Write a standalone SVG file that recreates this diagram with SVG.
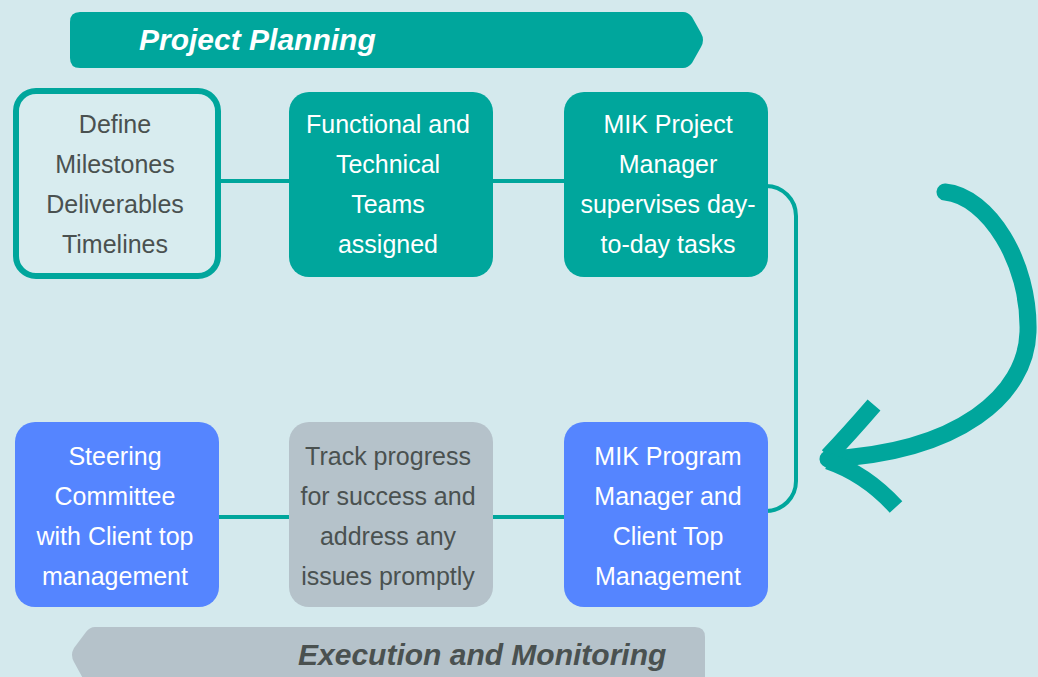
<svg xmlns="http://www.w3.org/2000/svg" width="1038" height="677" viewBox="0 0 1038 677">
  <defs>
    <style>
      .txt { font-family: "Liberation Sans", Arial, sans-serif; font-size: 25px; text-anchor: middle; }
      .light { fill: #ffffff; }
      .dark { fill: #4a5150; }
      .banner { font-family: "Liberation Sans", Arial, sans-serif; font-size: 30px; font-weight: bold; font-style: italic; }
      .link { fill: none; stroke: #00a69c; stroke-width: 4; }
      .teal { fill: #00a69c; }
      .blue { fill: #5585ff; }
      .grey { fill: #b5c2ca; }
      .sweep { fill: none; stroke: #00a69c; stroke-width: 17; }
    </style>
  </defs>

  <!-- background -->
  <rect width="1038" height="677" fill="#d4e9ed"/>

  <!-- phase banners -->
  <g id="banner-planning">
    <path class="teal" d="M80 12 H683 Q688 12 692 17 L701 33 Q705 40 701 47 L692 63 Q688 68 683 68 H80 Q70 68 70 58 V22 Q70 12 80 12 Z"/>
    <text class="banner light" x="139" y="50">Project Planning</text>
  </g>
  <g id="banner-execution">
    <path class="grey" d="M95 627 H695 Q705 627 705 637 V690 H95 Q90 690 86 684 L74 662 Q70 655 74 648 L86 632 Q90 627 95 627 Z"/>
    <text class="banner dark" x="298" y="665">Execution and Monitoring</text>
  </g>

  <!-- connectors -->
  <g id="connectors">
    <line class="link" x1="219" y1="181" x2="291" y2="181"/>
    <line class="link" x1="491" y1="181" x2="566" y2="181"/>
    <path class="link" d="M766 186 A30 30 0 0 1 796 216 V481 A30 30 0 0 1 766 511"/>
    <line class="link" x1="217" y1="517" x2="291" y2="517"/>
    <line class="link" x1="491" y1="517" x2="566" y2="517"/>
  </g>

  <!-- top row -->
  <g id="node-define">
    <rect x="16" y="91" width="202" height="185" rx="20" fill="#d8ecef" stroke="#00a69c" stroke-width="6"/>
    <text class="txt dark" x="115" y="133">Define</text>
    <text class="txt dark" x="115" y="173">Milestones</text>
    <text class="txt dark" x="115" y="213">Deliverables</text>
    <text class="txt dark" x="115" y="253">Timelines</text>
  </g>
  <g id="node-teams">
    <rect class="teal" x="289" y="92" width="204" height="185" rx="20"/>
    <text class="txt light" x="388" y="133">Functional and</text>
    <text class="txt light" x="388" y="173">Technical</text>
    <text class="txt light" x="388" y="213">Teams</text>
    <text class="txt light" x="388" y="253">assigned</text>
  </g>
  <g id="node-project-manager">
    <rect class="teal" x="564" y="92" width="204" height="185" rx="20"/>
    <text class="txt light" x="668" y="133">MIK Project</text>
    <text class="txt light" x="668" y="173">Manager</text>
    <text class="txt light" x="668" y="213">supervises day-</text>
    <text class="txt light" x="668" y="253">to-day tasks</text>
  </g>

  <!-- bottom row -->
  <g id="node-program-manager">
    <rect class="blue" x="564" y="422" width="204" height="185" rx="20"/>
    <text class="txt light" x="668" y="465">MIK Program</text>
    <text class="txt light" x="668" y="505">Manager and</text>
    <text class="txt light" x="668" y="545">Client Top</text>
    <text class="txt light" x="668" y="585">Management</text>
  </g>
  <g id="node-track">
    <rect class="grey" x="289" y="422" width="204" height="185" rx="20"/>
    <text class="txt dark" x="388" y="465">Track progress</text>
    <text class="txt dark" x="388" y="505">for success and</text>
    <text class="txt dark" x="388" y="545">address any</text>
    <text class="txt dark" x="388" y="585">issues promptly</text>
  </g>
  <g id="node-steering">
    <rect class="blue" x="15" y="422" width="204" height="185" rx="20"/>
    <text class="txt light" x="115" y="465">Steering</text>
    <text class="txt light" x="115" y="505">Committee</text>
    <text class="txt light" x="115" y="545">with Client top</text>
    <text class="txt light" x="115" y="585">management</text>
  </g>

  <!-- hand-drawn return arrow -->
  <g id="return-arrow">
    <path class="sweep" stroke-linecap="round" d="M945 192 C988 196 1030 262 1028 332 C1026 395 960 452 828 459"/>
    <path class="sweep" stroke-width="15" d="M828 456 Q849 434 874 405"/>
    <path class="sweep" stroke-width="15" d="M828 461 Q866 474 896 507"/>
  </g>
</svg>
